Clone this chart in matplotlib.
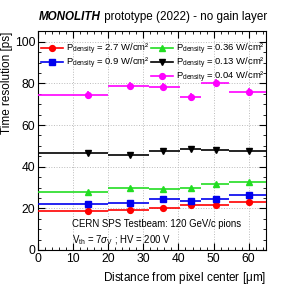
import matplotlib
matplotlib.use("Agg")
import matplotlib.pyplot as plt
import numpy as np
from matplotlib.ticker import MultipleLocator
from matplotlib.lines import Line2D

# Data
bin_lo = [0, 20, 31.5, 40.5, 46.5, 54.5]
bin_hi = [20, 31.5, 40.5, 46.5, 54.5, 65]
x_pos = [14.2, 26.1, 35.6, 43.5, 50.6, 60.1]

res_27 = [18.9, 19.4, 20.2, 21.6, 21.5, 23.2]
res_09 = [22.0, 22.8, 24.4, 23.4, 24.5, 26.3]
res_036 = [28.0, 29.8, 29.3, 29.8, 31.6, 32.7]
res_013 = [46.5, 45.7, 47.7, 48.4, 48.1, 47.7]
res_004 = [74.5, 79.0, 78.5, 73.4, 80.4, 76.0]

err_27 = [0.5] * 6
err_09 = [0.5] * 6
err_036 = [0.5] * 6
err_013 = [0.6] * 6
err_004 = [1.8] * 6

labels = [r"P$_{\rm density}$ = 2.7 W/cm²",
          r"P$_{\rm density}$ = 0.9 W/cm²",
          r"P$_{\rm density}$ = 0.36 W/cm²",
          r"P$_{\rm density}$ = 0.13 W/cm²",
          r"P$_{\rm density}$ = 0.04 W/cm²"]

plt.rcParams['font.family'] = ['Liberation Sans', 'DejaVu Sans']
plt.rcParams['mathtext.fontset'] = 'custom'
plt.rcParams['mathtext.rm'] = 'Liberation Sans'
plt.rcParams['mathtext.it'] = 'Liberation Sans:italic'

fig = plt.figure(figsize=(2.99, 2.88), dpi=100)
ax = fig.add_axes([0.128, 0.132, 0.762, 0.759])

series = [(res_27, err_27, '#ff0000', 'o', 4.2),
          (res_09, err_09, '#0000ee', 's', 4.2),
          (res_036, err_036, '#22dd22', '^', 4.4),
          (res_013, err_013, '#000000', 'v', 4.4),
          (res_004, err_004, '#ff00ff', 'o', 4.2)]

xlo = np.array(x_pos) - np.array(bin_lo)
xhi = np.array(bin_hi) - np.array(x_pos)
handles = []
for (y, e, c, m, ms), lab in zip(series, labels):
    ax.errorbar(x_pos, y, yerr=e, xerr=[xlo, xhi], fmt=m, color=c,
                ecolor=c, elinewidth=1.2, markersize=ms, capsize=0, zorder=3)
    handles.append(Line2D([], [], color=c, marker=m, markersize=ms, linewidth=1.2))

ax.set_xlim(0, 65)
ax.set_ylim(0, 105)
ax.xaxis.set_major_locator(MultipleLocator(10))
ax.xaxis.set_minor_locator(MultipleLocator(2))
ax.yaxis.set_major_locator(MultipleLocator(20))
ax.yaxis.set_minor_locator(MultipleLocator(5))
ax.tick_params(which='both', direction='in', top=True, right=True, labelsize=8.7, pad=2)
ax.tick_params(which='major', length=5)
ax.tick_params(which='minor', length=2.5)
ax.grid(True, which='major', linestyle=':', color='#bbbbbb', linewidth=0.7)
ax.set_axisbelow(True)
for s in ax.spines.values():
    s.set_linewidth(0.8)

ax.set_xlabel(r"Distance from pixel center [$\mathrm{\mu}$m]", fontsize=8.5, ha='right', x=1.0, labelpad=4)
ax.set_ylabel("Time resolution [ps]", fontsize=8.5, ha='right', y=1.0, labelpad=1.5)

t1 = fig.text(0.131, 0.94, "MONOLITH", fontweight='bold', style='italic',
              ha='left', va='center', fontsize=8.4)
ax.annotate(" prototype (2022) - no gain layer", xy=(1, 0.5), xycoords=t1,
            ha='left', va='center', fontsize=8.4, annotation_clip=False)

leg_kw = dict(frameon=False, fontsize=6.8, handlelength=2.3, handletextpad=0.3,
              labelspacing=-0.1, borderpad=0, borderaxespad=0)
leg1 = ax.legend(handles[:2], labels[:2], loc='upper left',
                 bbox_to_anchor=(0.012, 0.952), **leg_kw)
ax.add_artist(leg1)
ax.legend(handles[2:], labels[2:], loc='upper left',
          bbox_to_anchor=(0.495, 0.952), **leg_kw)

ax.text(0.147, 0.12, "CERN SPS Testbeam: 120 GeV/c pions", transform=ax.transAxes,
        fontsize=6.9, va='center', ha='left')
ax.text(0.147, 0.045, r"V$_{\rm th}$ = 7$\sigma_{\rm V}$ ; HV = 200 V", transform=ax.transAxes,
        fontsize=6.9, va='center', ha='left')

fig.savefig("out.png", dpi=100)
